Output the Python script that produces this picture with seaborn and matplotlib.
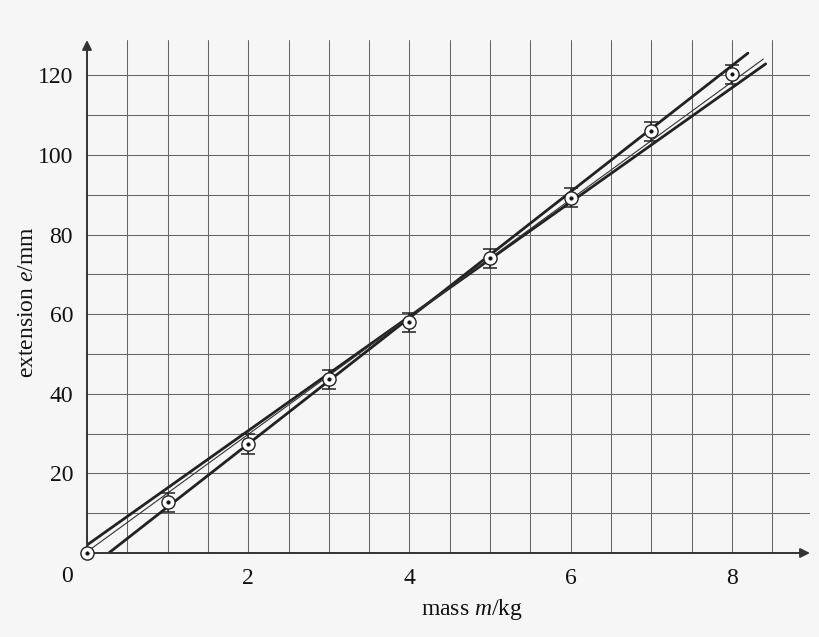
import numpy as np
import pandas as pd
import matplotlib
matplotlib.use("Agg")
import matplotlib.pyplot as plt
import seaborn as sns

# === data ===
mass = [0, 1, 2, 3, 4, 5, 6, 7, 8]
extension = [0.0, 12.7, 27.4, 43.7, 58.0, 74.1, 89.3, 106.0, 120.3]
err = [0.0, 2.4, 2.4, 2.4, 2.4, 2.4, 2.4, 2.4, 2.4]

# straight lines drawn by hand: best fit, steepest, shallowest
best_x = [0.0, 8.39]
best_y = [0.3, 124.1]
max_x = [0.27, 8.2]
max_y = [0.0, 125.6]
min_x = [0.0, 8.42]
min_y = [2.0, 122.9]

x_labels = [2, 4, 6, 8]
y_labels = [20, 40, 60, 80, 100, 120]

# === style ===
sns.set_theme(style="white")
bg = "#f6f6f6"
plt.rcParams['font.family'] = ['Liberation Serif', 'DejaVu Serif']
plt.rcParams['mathtext.fontset'] = 'custom'
plt.rcParams['mathtext.rm'] = 'Liberation Serif'
plt.rcParams['mathtext.it'] = 'Liberation Serif:italic'

fig = plt.figure(figsize=(8.2, 6.37), dpi=100, facecolor=bg)
ax = fig.add_axes([87/820, 84/637, 723/820, 513/637], facecolor=bg)

xmax, ymax = 8.97, 128.9
ax.set_xlim(0, xmax)
ax.set_ylim(0, ymax)

# grid
ax.set_xticks(x_labels)
ax.set_yticks(y_labels)
ax.set_xticks(np.arange(0.5, 8.6, 0.5), minor=True)
ax.set_yticks(np.arange(10, 121, 10), minor=True)
ax.grid(True, which="both", color="#666666", linewidth=0.75)
ax.tick_params(which="both", length=0)
ax.tick_params(axis="x", pad=11, labelsize=17, colors="#111111")
ax.tick_params(axis="y", pad=10, labelsize=17, colors="#111111")
for s in ax.spines.values():
    s.set_visible(False)

# axes with arrows
ax.annotate("", xy=(1.0, 0), xytext=(0, 0), xycoords="axes fraction",
            arrowprops=dict(arrowstyle="-|>", color="#333333", lw=1.4,
                            mutation_scale=14, shrinkA=0, shrinkB=0), zorder=5)
ax.annotate("", xy=(0, 1.0), xytext=(0, 0), xycoords="axes fraction",
            arrowprops=dict(arrowstyle="-|>", color="#333333", lw=1.4,
                            mutation_scale=14, shrinkA=0, shrinkB=0), zorder=5)
ax.text(-20/723, -24/513, "0", transform=ax.transAxes, ha="center", va="center",
        fontsize=17, color="#111111")

# fit lines
sns.lineplot(x=max_x, y=max_y, ax=ax, color="#222222", linewidth=2.0, zorder=3)
sns.lineplot(x=min_x, y=min_y, ax=ax, color="#222222", linewidth=2.0, zorder=3)
sns.lineplot(x=best_x, y=best_y, ax=ax, color="#333333", linewidth=0.8, zorder=3)

# error bars and points
df = pd.DataFrame({"mass": mass, "extension": extension, "err": err})
ax.errorbar(df["mass"], df["extension"], yerr=df["err"], fmt="none",
            ecolor="#222222", elinewidth=1.1, capsize=5, capthick=1.1, zorder=4)
sns.scatterplot(data=df, x="mass", y="extension", ax=ax, s=90, color="white",
                edgecolor="#222222", linewidth=1.0, zorder=6, clip_on=False)
sns.scatterplot(data=df, x="mass", y="extension", ax=ax, s=6, color="#111111",
                edgecolor="#111111", linewidth=0.5, zorder=7, clip_on=False)

ax.set_xlabel("mass $m$/kg", fontsize=17, color="#111111")
ax.set_ylabel("extension $e$/mm", fontsize=17, color="#111111")
ax.xaxis.set_label_coords(0.533, -0.086)
ax.yaxis.set_label_coords(-0.068, 0.49)

fig.savefig("out.png", dpi=100, facecolor=bg)
